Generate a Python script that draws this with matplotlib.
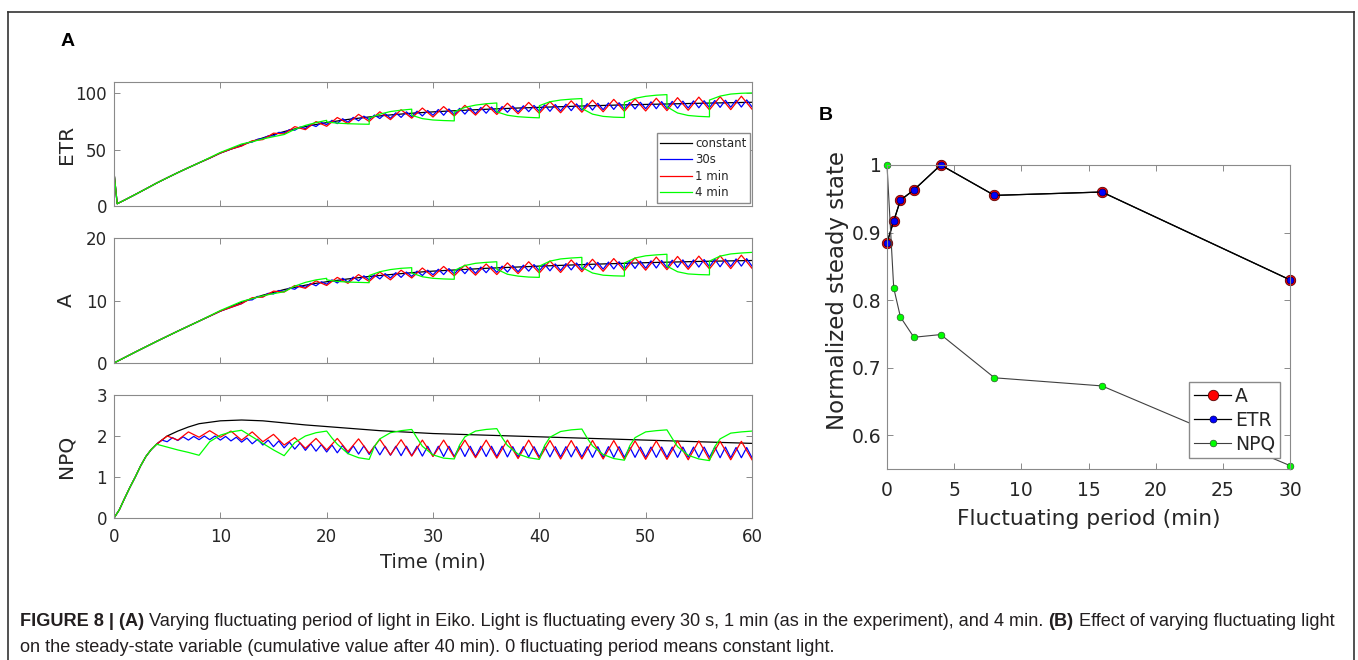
import matplotlib
matplotlib.use("Agg")
import matplotlib.pyplot as plt
from matplotlib.lines import Line2D


W, H = 1358, 660

SERIES_LABELS = ["constant", "30s", "1 min", "4 min"]
SERIES_COLORS = ["black", "#0000ff", "#ff0000", "#00ff00"]
TIME_TICKS = [0, 10, 20, 30, 40, 50, 60]

# ---- ETR ----
etr_const_t = [0, 0, 0.3, 1, 2, 3, 4, 5, 6, 7, 8, 9, 10, 11, 12, 13, 14, 15,
               16, 17, 18, 19, 20, 22, 24, 26, 28, 30, 32, 34, 36, 38, 40,
               44, 48, 52, 56, 60]
etr_const = [0, 30, 2, 5.3, 10.2, 15.2, 20.3, 25, 29.6, 34, 38.3, 42.5, 47,
             50.5, 54, 57.3, 60.4, 63.3, 66, 68.4, 70.5, 72.3, 74, 76.8, 79,
             80.8, 82.3, 83.5, 84.5, 85.4, 86.2, 86.9, 87.5, 88.7, 89.7, 90.5,
             91.3, 92]
# 30 s: lows at whole minutes 12..60, highs at half minutes 12.5..59.5
etr_30s_low = [53.4, 56.7, 59.8, 62.1, 64.8, 67.2, 68.7, 70.5, 72.2, 73.1,
               74.4, 75.6, 76.6, 77.6, 77.8, 78.6, 79.3, 79.9, 80.5, 80.5,
               81, 81.5, 81.9, 82.3, 82.7, 83.1, 83.4, 83.7, 84, 84,
               84.3, 84.6, 84.9, 85.1, 85.4, 85.7, 85.9, 86.1, 86.3, 86.3,
               86.5, 86.7, 86.9, 87.1, 87.3, 87.5, 87.6, 87.8, 88]
etr_30s_high = [56.0, 59.2, 62.2, 65.3, 67.8, 70.1, 72.3, 74.1, 76.0, 77.4,
                78.6, 79.7, 80.7, 81.9, 82.7, 83.5, 84.1, 84.7, 85.6, 86.1,
                86.6, 87, 87.4, 87.8, 88.2, 88.6, 88.9, 89.2, 89.7, 90,
                90.3, 90.6, 90.8, 91.1, 91.4, 91.6, 91.8, 92, 92.4, 92.6,
                92.8, 93, 93.2, 93.4, 93.6, 93.8, 93.9, 94.1]
# 1 min: lows at even minutes 12..60, highs at odd minutes 13..59
etr_1min_low = [53.2, 58.9, 63.9, 67.7, 70.7, 73.1, 75, 76.6, 77.9, 78.9,
                79.8, 80.6, 81.2, 81.8, 82.2, 82.7, 83.2, 83.6, 84, 84.3,
                84.6, 84.9, 85.3, 85.5, 85.9]
etr_1min_high = [57.9, 64.6, 70.4, 74.9, 78.5, 81.3, 83.6, 85.4, 86.9, 88.2,
                 89.3, 90.3, 91.2, 91.9, 92.6, 93.3, 93.9, 94.6, 95.1, 95.6,
                 96.1, 96.6, 97, 97.4]
green_t = [8, 10, 12, 13, 14, 15, 16, 17, 18, 19, 20,
           20, 21, 22, 23, 24, 24, 25, 26, 27, 28,
           28, 29, 30, 31, 32, 32, 33, 34, 35, 36,
           36, 37, 38, 39, 40, 40, 41, 42, 43, 44,
           44, 45, 46, 47, 48, 48, 49, 50, 51, 52,
           52, 53, 54, 55, 56, 56, 57, 58, 59, 60]
etr_4min = [38.3, 47.5, 55, 57, 59.5, 61.5, 63.4, 68, 71.5, 74, 76,
            74.5, 73.5, 73, 72.7, 72.5, 78, 81.5, 83.8, 85, 85.9,
            80.5, 77.5, 76.3, 75.8, 75.5, 83.5, 87.5, 89.5, 90.7, 91.4,
            83.5, 80.5, 79.2, 78.6, 78.2, 89, 92.5, 94, 94.8, 95.3,
            86.5, 81.5, 79.5, 78.8, 78.5, 92, 95.5, 97.3, 98.3, 98.8,
            88, 82.5, 80.3, 79.5, 79.1, 94, 97.5, 99.3, 100, 100.3]

# ---- A ----
a_const_t = [0, 2, 4, 6, 8, 10, 12, 13, 14, 15, 16, 17, 18, 19, 20, 22, 24,
             26, 28, 30, 35, 40, 45, 50, 55, 60]
a_const = [0, 1.75, 3.45, 5.1, 6.7, 8.3, 9.7, 10.3, 10.85, 11.3, 11.75, 12.1,
           12.45, 12.75, 13.0, 13.45, 13.85, 14.15, 14.45, 14.7, 15.15, 15.5,
           15.8, 16.05, 16.25, 16.4]
a_30s_low = [9.5, 10.1, 10.6, 11.05, 11.45, 11.8, 12.1, 12.35, 12.6, 12.8,
             12.95, 13.15, 13.3, 13.45, 13.6, 13.7, 13.85, 14.0, 14.1, 14.15,
             14.25, 14.3, 14.35, 14.45, 14.5, 14.55, 14.6, 14.7, 14.75, 14.75,
             14.8, 14.9, 14.93, 14.97, 15.0, 15.05, 15.1, 15.13, 15.17, 15.2,
             15.25, 15.3, 15.3, 15.35, 15.4, 15.4, 15.45, 15.5, 15.5]
a_30s_high = [10.05, 10.65, 11.15, 11.6, 12.0, 12.4, 12.75, 13.0, 13.3, 13.55,
              13.75, 13.95, 14.1, 14.3, 14.45, 14.55, 14.7, 14.85, 15.0, 15.1,
              15.2, 15.3, 15.35, 15.45, 15.5, 15.6, 15.65, 15.75, 15.8, 15.85,
              15.9, 16.0, 16.05, 16.1, 16.15, 16.2, 16.25, 16.3, 16.35, 16.4,
              16.45, 16.5, 16.5, 16.55, 16.6, 16.6, 16.65, 16.7]
a_1min_low = [9.5, 10.55, 11.35, 11.95, 12.4, 12.75, 13.05, 13.3, 13.6, 13.8,
              13.95, 14.05, 14.15, 14.3, 14.4, 14.48, 14.6, 14.67, 14.75,
              14.85, 14.93, 14.98, 15.06, 15.1, 15.15]
a_1min_high = [10.45, 11.5, 12.4, 13.15, 13.7, 14.15, 14.55, 14.85, 15.2,
               15.45, 15.67, 15.85, 16.03, 16.2, 16.33, 16.49, 16.6, 16.71,
               16.82, 16.95, 17.05, 17.1, 17.15, 17.25]
a_4min = [6.7, 8.4, 9.85, 10.3, 10.75, 11.1, 11.4, 12.3, 12.9, 13.3, 13.55,
          13.3, 13.05, 12.95, 12.9, 12.85, 14.0, 14.6, 14.95, 15.15, 15.25,
          14.4, 13.8, 13.55, 13.45, 13.4, 14.8, 15.6, 15.95, 16.1, 16.2,
          15.0, 14.2, 13.9, 13.75, 13.7, 15.5, 16.3, 16.65, 16.8, 16.9,
          15.3, 14.4, 14.05, 13.95, 13.9, 16.0, 16.8, 17.15, 17.3, 17.4,
          15.5, 14.6, 14.25, 14.15, 14.1, 16.3, 17.1, 17.45, 17.6, 17.7]

# ---- NPQ ----
npq_const_t = [0, 0.5, 1, 1.5, 2, 2.5, 3, 3.5, 4, 5, 6, 7, 8, 10, 12, 14, 16,
               18, 20, 25, 30, 40, 50, 60]
npq_const = [0, 0.2, 0.48, 0.75, 1.0, 1.27, 1.5, 1.67, 1.8, 2.0, 2.12, 2.22,
             2.3, 2.37, 2.39, 2.37, 2.32, 2.27, 2.23, 2.13, 2.06, 1.98, 1.9,
             1.82]
# 30 s: highs at half minutes 4.5..59.5, lows at whole minutes 5..60
npq_30s_high = [1.9, 1.96, 1.98, 1.99, 2.0, 2.0, 1.99, 1.97, 1.95, 1.92,
                1.9, 1.88, 1.85, 1.83, 1.81, 1.79, 1.78, 1.77, 1.76, 1.76,
                1.76, 1.75, 1.75, 1.75, 1.75, 1.75, 1.75, 1.75, 1.75, 1.75,
                1.75, 1.75, 1.75, 1.74, 1.74, 1.74, 1.74, 1.74, 1.74, 1.74,
                1.74, 1.74, 1.74, 1.74, 1.73, 1.73, 1.73, 1.73, 1.73, 1.73,
                1.73, 1.73, 1.73, 1.73, 1.72, 1.72]
npq_30s_low = [1.86, 1.89, 1.9, 1.91, 1.91, 1.9, 1.88, 1.85, 1.81, 1.78,
               1.74, 1.71, 1.68, 1.65, 1.63, 1.61, 1.59, 1.57, 1.56, 1.55,
               1.54, 1.53, 1.52, 1.52, 1.51, 1.51, 1.5, 1.5, 1.5, 1.5,
               1.5, 1.5, 1.49, 1.49, 1.49, 1.49, 1.49, 1.49, 1.49, 1.49,
               1.48, 1.48, 1.48, 1.48, 1.48, 1.48, 1.48, 1.48, 1.48, 1.48,
               1.48, 1.48, 1.47, 1.47, 1.47, 1.47]
# 1 min: highs at odd minutes 5..59, lows at even minutes 6..60
npq_1min_high = [2.0, 2.1, 2.13, 2.12, 2.1, 2.04, 1.96, 1.94, 1.94, 1.93,
                 1.92, 1.91, 1.9, 1.9, 1.9, 1.9, 1.9, 1.9, 1.89, 1.89,
                 1.89, 1.89, 1.88, 1.88, 1.88, 1.88, 1.87, 1.87]
npq_1min_low = [1.9, 1.97, 1.97, 1.9, 1.86, 1.78, 1.7, 1.66, 1.62, 1.58,
                1.54, 1.51, 1.5, 1.48, 1.47, 1.46, 1.45, 1.45, 1.44, 1.44,
                1.44, 1.43, 1.43, 1.43, 1.42, 1.42, 1.42, 1.42]
npq_4min_t = [4, 5, 6, 7, 8, 9, 10, 11, 12, 13, 14, 15, 16, 17, 18, 19, 20,
              20.5, 21, 22, 23, 24, 24.5, 25, 26, 27, 28, 28.5, 29, 30, 31,
              32, 32.5, 33, 34, 35, 36, 36.5, 37, 38, 39, 40, 40.5, 41, 42,
              43, 44, 44.5, 45, 46, 47, 48, 48.5, 49, 50, 51, 52, 52.5, 53,
              54, 55, 56, 56.5, 57, 58, 59, 60]
npq_4min = [1.8, 1.73, 1.66, 1.6, 1.53, 1.86, 2.02, 2.1, 2.14, 1.98, 1.82,
            1.66, 1.52, 1.84, 2.0, 2.08, 2.12, 1.95, 1.8, 1.57, 1.47, 1.43,
            1.75, 1.93, 2.08, 2.13, 2.16, 1.95, 1.75, 1.54, 1.46, 1.44,
            1.78, 1.98, 2.12, 2.16, 2.18, 1.96, 1.77, 1.56, 1.47, 1.43,
            1.77, 1.97, 2.11, 2.15, 2.17, 1.95, 1.76, 1.55, 1.45, 1.41,
            1.76, 1.96, 2.1, 2.13, 2.15, 1.94, 1.74, 1.53, 1.44, 1.40,
            1.74, 1.93, 2.07, 2.1, 2.12]

# ---- panel B: steady state vs period ----
periods = [0, 0.5, 1, 2, 4, 8, 16, 30]
ss_a = [0.885, 0.917, 0.948, 0.963, 1.0, 0.955, 0.960, 0.830]
ss_etr = [0.885, 0.917, 0.948, 0.963, 1.0, 0.955, 0.960, 0.830]
ss_npq = [1.0, 0.818, 0.775, 0.745, 0.749, 0.685, 0.673, 0.555]
B_YTICKS = [0.6, 0.7, 0.8, 0.9, 1.0]
B_YTICKLABELS = ["0.6", "0.7", "0.8", "0.9", "1"]

CAPTION_1 = [
    ("FIGURE 8 | (A)", "bold"),
    (" Varying fluctuating period of light in Eiko. Light is fluctuating "
     "every 30 s, 1 min (as in the experiment), and 4 min. ", "normal"),
    ("(B)", "bold"),
    (" Effect of varying fluctuating light", "normal"),
]
CAPTION_2 = ("on the steady-state variable (cumulative value after 40 min). "
             "0 fluctuating period means constant light.")

GRAY = "#8a8a8a"
TXT = "#262626"


def px_box(left, top, right, bottom):
    return [left / W, 1 - bottom / H, (right - left) / W, (bottom - top) / H]


def with_base(t_base, v_base, t0, t_own, v_own):
    # the run follows the constant-light curve until it starts fluctuating
    t = [x for x in t_base if x < t0] + list(t_own)
    v = [y for x, y in zip(t_base, v_base) if x < t0] + list(v_own)
    return t, v


def interleave(first, second):
    out = []
    for a, b in zip(first, second):
        out += [a, b]
    out += list(first[len(second):])
    return out


def steps(start, stop, step):
    n = int(round((stop - start) / step)) + 1
    return [start + i * step for i in range(n)]


def style_axes(ax, labelsize):
    for spine in ax.spines.values():
        spine.set_color(GRAY)
        spine.set_linewidth(0.8)
    ax.tick_params(direction="in", top=True, right=True, length=4,
                   width=0.7, color=GRAY, labelcolor=TXT,
                   labelsize=labelsize)


def main():
    plt.rcParams["font.family"] = ["DejaVu Sans"]

    fig = plt.figure(figsize=(W / 100, H / 100), dpi=100)

    ax_etr = fig.add_axes(px_box(114, 82, 752, 206))
    ax_a = fig.add_axes(px_box(114, 238, 752, 363))
    ax_npq = fig.add_axes(px_box(114, 395, 752, 518))

    panels = [
        (ax_etr, "ETR", (0, 110), [0, 50, 100],
         (etr_const_t, etr_const),
         with_base(etr_const_t, etr_const, 12, steps(12, 60, 0.5),
                   interleave(etr_30s_low, etr_30s_high)),
         with_base(etr_const_t, etr_const, 12, steps(12, 60, 1),
                   interleave(etr_1min_low, etr_1min_high)),
         with_base(etr_const_t, etr_const, 8, green_t, etr_4min)),
        (ax_a, "A", (0, 20), [0, 10, 20],
         (a_const_t, a_const),
         with_base(a_const_t, a_const, 12, steps(12, 60, 0.5),
                   interleave(a_30s_low, a_30s_high)),
         with_base(a_const_t, a_const, 12, steps(12, 60, 1),
                   interleave(a_1min_low, a_1min_high)),
         with_base(a_const_t, a_const, 8, green_t, a_4min)),
        (ax_npq, "NPQ", (0, 3), [0, 1, 2, 3],
         (npq_const_t, npq_const),
         with_base(npq_const_t, npq_const, 4.5, steps(4.5, 60, 0.5),
                   interleave(npq_30s_high, npq_30s_low)),
         with_base(npq_const_t, npq_const, 5, steps(5, 60, 1),
                   interleave(npq_1min_high, npq_1min_low)),
         with_base(npq_const_t, npq_const, 4, npq_4min_t, npq_4min)),
    ]

    for ax, name, ylim, yticks, *runs in panels:
        for (t, v), color, label in zip(runs, SERIES_COLORS, SERIES_LABELS):
            ax.plot(t, v, color=color, lw=0.9, label=label)
        ax.set_xlim(0, 60)
        ax.set_ylim(*ylim)
        ax.set_xticks(TIME_TICKS)
        ax.set_yticks(yticks)
        style_axes(ax, 12)
        ax.tick_params(axis="y", pad=5)
        ax.tick_params(axis="x", pad=7)
        ax.set_ylabel(name, fontsize=14.5, color=TXT)
        ax.yaxis.set_label_coords((76 - 114) / 638, 0.5)
        if ax is not ax_npq:
            ax.tick_params(labelbottom=False)

    ax_npq.set_xlabel("Time (min)", fontsize=14, color=TXT, labelpad=5)

    leg = ax_etr.legend(loc="lower right", bbox_to_anchor=(0.997, 0.024),
                        borderaxespad=0, fontsize=8.5, handlelength=2.7,
                        handletextpad=0.25, labelspacing=0.3, borderpad=0.3,
                        fancybox=False, framealpha=1, edgecolor=GRAY)
    for text in leg.get_texts():
        text.set_color(TXT)

    # ---- panel B ----
    ax_b = fig.add_axes(px_box(887, 165, 1290, 469))
    ax_b.plot(periods, ss_a, "-o", color="black", lw=0.9, ms=7.5,
              mfc="#ff0000", mec="#5a0000", mew=0.6, label="A", clip_on=False)
    ax_b.plot(periods, ss_etr, "-o", color="black", lw=0.9, ms=5,
              mfc="#0000ff", mec="#000050", mew=0.5, label="ETR",
              clip_on=False)
    ax_b.plot(periods, ss_npq, "-o", color="#404040", lw=0.8, ms=4.8,
              mfc="#00ff00", mec="#2a5a2a", mew=0.5, label="NPQ",
              clip_on=False)
    ax_b.set_xlim(0, 30)
    ax_b.set_ylim(0.55, 1.0)
    ax_b.set_xticks([0, 5, 10, 15, 20, 25, 30])
    ax_b.set_yticks(B_YTICKS)
    ax_b.set_yticklabels(B_YTICKLABELS)
    style_axes(ax_b, 13.5)
    ax_b.tick_params(axis="x", pad=9)
    ax_b.tick_params(axis="y", pad=4)
    ax_b.set_xlabel("Fluctuating period (min)", fontsize=15.7, color=TXT,
                    labelpad=6)
    ax_b.set_ylabel("Normalized steady state", fontsize=16.5, color=TXT)
    ax_b.yaxis.set_label_coords((849 - 887) / 403, (469 - 291) / 304)

    leg_b = ax_b.legend(loc="lower right", bbox_to_anchor=(0.975, 0.036),
                        borderaxespad=0, fontsize=13.5, handlelength=2.0,
                        handletextpad=0.2, labelspacing=0.25, borderpad=0.25,
                        fancybox=False, framealpha=1, edgecolor=GRAY)
    for text in leg_b.get_texts():
        text.set_color(TXT)

    fig.text(68 / W, 1 - 42 / H, "A", fontsize=14, weight="bold",
             family="Liberation Sans", ha="center", va="center")
    fig.text(826 / W, 1 - 116 / H, "B", fontsize=14, weight="bold",
             family="Liberation Sans", ha="center", va="center")

    # ---- outer frame and caption ----
    frame = dict(transform=fig.transFigure, color="#333333", lw=1.2)
    fig.add_artist(Line2D([8 / W, 8 / W], [0, 1 - 12 / H], **frame))
    fig.add_artist(Line2D([8 / W, 1354 / W], [1 - 12 / H, 1 - 12 / H],
                          **frame))
    fig.add_artist(Line2D([1354 / W, 1354 / W], [0, 1 - 12 / H], **frame))

    cap_ax = fig.add_axes([0, 0, 1, 1], zorder=-1)
    cap_ax.axis("off")
    cap_font = dict(family=["Liberation Sans"], fontsize=13.1,
                    color="#231f20")
    prev = cap_ax.text(20 / W, 1 - 621 / H, CAPTION_1[0][0],
                       weight=CAPTION_1[0][1], va="center", ha="left",
                       transform=fig.transFigure, **cap_font)
    for text, weight in CAPTION_1[1:]:
        prev = cap_ax.annotate(text, xy=(1, 0), xycoords=prev,
                               va="bottom", ha="left", weight=weight,
                               **cap_font)
    cap_ax.text(20 / W, 1 - 648 / H, CAPTION_2, va="center", ha="left",
                transform=fig.transFigure, **cap_font)

    fig.savefig("out.png", dpi=100)
    plt.close(fig)


if __name__ == "__main__":
    main()
